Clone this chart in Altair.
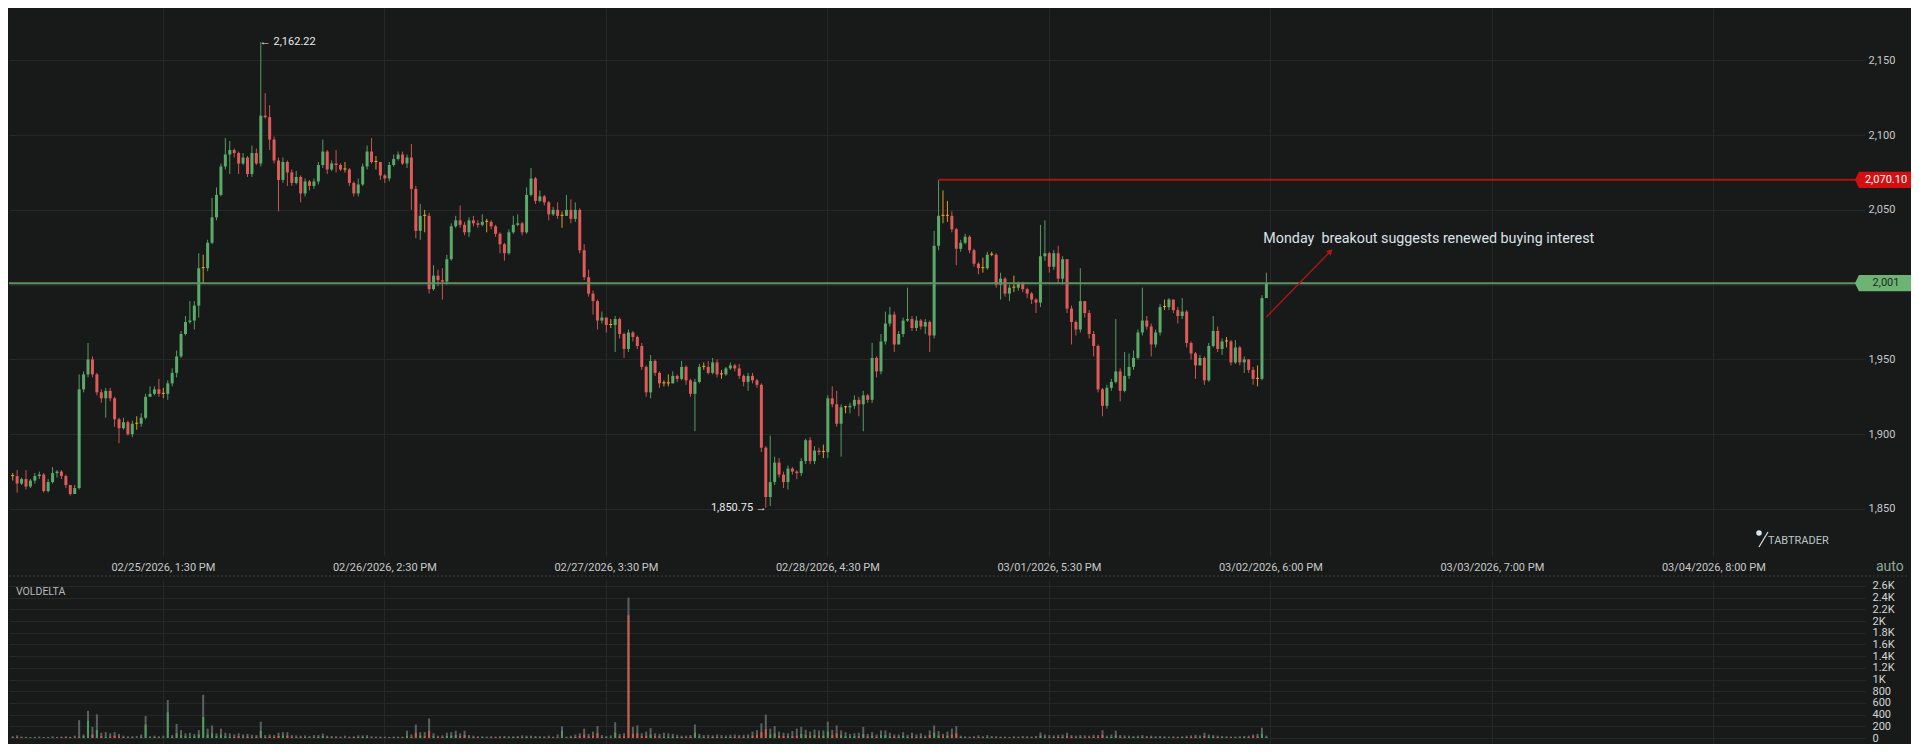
import json
import altair as alt
import pandas as pd

# ---------------- data (30-min candles) ----------------
first_open = 1872

close = [
    1872, 1867, 1870, 1865, 1869, 1872, 1873, 1862, 1868, 1874,
    1875, 1872, 1866, 1860, 1864, 1930, 1940, 1950, 1940, 1928,
    1924, 1929, 1924, 1910, 1904, 1908, 1900, 1907, 1907, 1911,
    1925, 1927, 1930, 1927, 1927, 1934, 1941, 1952, 1967, 1975,
    1976, 1986, 2011, 2011, 2028, 2045, 2060, 2079, 2087, 2090,
    2088, 2081, 2085, 2074, 2088, 2081, 2113, 2112, 2097, 2083,
    2070, 2082, 2075, 2068, 2072, 2061, 2069, 2066, 2069, 2080,
    2089, 2077, 2081, 2080, 2077, 2077, 2068, 2061, 2067, 2079,
    2089, 2082, 2082, 2073, 2071, 2080, 2084, 2087, 2081, 2085,
    2064, 2036, 2046, 2046, 1997, 2006, 2003, 2002, 2017, 2039,
    2043, 2040, 2035, 2043, 2041, 2040, 2042, 2042, 2039, 2034,
    2027, 2021, 2035, 2040, 2041, 2035, 2060, 2071, 2056, 2059,
    2055, 2047, 2050, 2046, 2046, 2050, 2044, 2050, 2023, 2005,
    1994, 1989, 1976, 1978, 1973, 1973, 1977, 1967, 1957, 1968,
    1965, 1959, 1945, 1928, 1949, 1941, 1934, 1934, 1934, 1939,
    1937, 1945, 1936, 1927, 1935, 1945, 1945, 1941, 1948, 1940,
    1940, 1944, 1946, 1944, 1939, 1935, 1939, 1936, 1933, 1891,
    1858, 1868, 1881, 1873, 1868, 1877, 1875, 1874, 1882, 1896,
    1882, 1889, 1888, 1888, 1924, 1920, 1907, 1918, 1918, 1919,
    1923, 1920, 1926, 1923, 1951, 1942, 1962, 1974, 1980, 1960,
    1967, 1976, 1977, 1971, 1976, 1972, 1975, 1966, 2026, 2046,
    2046, 2046, 2037, 2024, 2028, 2032, 2023, 2014, 2011, 2011,
    2020, 2020, 2000, 2004, 1994, 1998, 1998, 2001, 1997, 1994,
    1990, 1988, 2019, 2021, 2012, 2021, 2004, 2017, 1984, 1975,
    1970, 1989, 1981, 1967, 1959, 1930, 1919, 1931, 1935, 1942,
    1929, 1939, 1945, 1951, 1968, 1976, 1972, 1960, 1968, 1985,
    1985, 1990, 1983, 1979, 1982, 1961, 1954, 1946, 1951, 1936,
    1959, 1969, 1957, 1962, 1962, 1948, 1958, 1948, 1950, 1943,
    1937, 1937, 1991, 2001,
]

high = [
    1874, 1876, 1871, 1876, 1870, 1874, 1875, 1874, 1870, 1878,
    1876, 1876, 1873, 1866, 1866, 1940, 1942, 1961, 1952, 1941,
    1930, 1931, 1931, 1925, 1911, 1911, 1909, 1909, 1912, 1914,
    1927, 1932, 1932, 1937, 1931, 1936, 1944, 1956, 1969, 1979,
    1989, 1989, 2021, 2020, 2030, 2058, 2065, 2081, 2098, 2096,
    2091, 2089, 2088, 2086, 2093, 2091, 2162.22, 2128, 2120, 2099,
    2085, 2085, 2083, 2077, 2076, 2073, 2071, 2070, 2071, 2082,
    2097, 2090, 2083, 2090, 2081, 2082, 2078, 2069, 2071, 2081,
    2093, 2098, 2086, 2082, 2074, 2082, 2087, 2089, 2089, 2087,
    2094, 2066, 2054, 2050, 2048, 2013, 2010, 2011, 2020, 2041,
    2046, 2053, 2042, 2045, 2046, 2043, 2047, 2044, 2043, 2040,
    2035, 2028, 2037, 2046, 2047, 2042, 2065, 2078, 2072, 2063,
    2060, 2056, 2052, 2055, 2049, 2060, 2057, 2055, 2051, 2027,
    2010, 1996, 1990, 1982, 1977, 1977, 1979, 1978, 1968, 1970,
    1969, 1966, 1961, 1946, 1953, 1950, 1942, 1936, 1940, 1942,
    1940, 1949, 1946, 1937, 1937, 1947, 1948, 1949, 1951, 1950,
    1943, 1945, 1948, 1947, 1947, 1940, 1941, 1941, 1937, 1934,
    1892, 1899, 1885, 1884, 1875, 1879, 1878, 1876, 1884, 1897,
    1898, 1892, 1891, 1893, 1926, 1932, 1929, 1920, 1919, 1921,
    1926, 1925, 1929, 1927, 1961, 1952, 1967, 1982, 1985, 1982,
    1969, 1978, 1998, 1979, 1979, 1977, 1977, 1976, 2036, 2070.10,
    2063, 2056, 2049, 2038, 2030, 2034, 2033, 2024, 2015, 2018,
    2022, 2022, 2021, 2008, 2005, 2000, 2006, 2002, 2002, 1998,
    1995, 1991, 2040, 2043, 2022, 2023, 2026, 2019, 2017, 1986,
    1976, 2011, 1988, 1983, 1969, 1960, 1931, 1933, 1937, 1977,
    1944, 1955, 1954, 1956, 1970, 1998, 1979, 1974, 1970, 1987,
    1990, 1991, 1990, 1985, 1991, 1983, 1962, 1955, 1953, 1952,
    1961, 1979, 1972, 1964, 1965, 1963, 1963, 1959, 1952, 1949,
    1945, 1946, 1993, 2008,
]

low = [
    1869, 1861, 1866, 1863, 1864, 1867, 1870, 1861, 1861, 1867,
    1871, 1870, 1864, 1859, 1860, 1863, 1928, 1938, 1938, 1926,
    1921, 1911, 1922, 1905, 1894, 1903, 1899, 1898, 1903, 1905,
    1910, 1925, 1926, 1925, 1924, 1923, 1932, 1938, 1951, 1966,
    1974, 1970, 1978, 2001, 2009, 2027, 2043, 2059, 2077, 2074,
    2085, 2074, 2080, 2072, 2072, 2080, 2079, 2111, 2090, 2081,
    2049, 2068, 2066, 2066, 2067, 2055, 2059, 2063, 2064, 2067,
    2078, 2074, 2076, 2075, 2076, 2075, 2066, 2059, 2059, 2066,
    2077, 2081, 2077, 2070, 2068, 2069, 2079, 2083, 2080, 2078,
    2050, 2031, 2030, 2035, 1994, 1996, 1999, 1990, 2000, 2016,
    2038, 2038, 2033, 2032, 2039, 2038, 2039, 2035, 2037, 2032,
    2021, 2016, 2020, 2034, 2039, 2033, 2034, 2059, 2054, 2055,
    2053, 2043, 2046, 2044, 2038, 2046, 2041, 2042, 2021, 2003,
    1992, 1980, 1970, 1974, 1968, 1971, 1955, 1964, 1951, 1955,
    1962, 1957, 1943, 1925, 1924, 1939, 1931, 1932, 1932, 1936,
    1935, 1936, 1933, 1925, 1902, 1934, 1943, 1940, 1940, 1938,
    1937, 1939, 1943, 1942, 1937, 1932, 1929, 1934, 1931, 1888,
    1850.75, 1852, 1866, 1871, 1864, 1863, 1873, 1870, 1872, 1880,
    1880, 1880, 1886, 1884, 1884, 1918, 1905, 1885, 1914, 1914,
    1917, 1912, 1902, 1921, 1921, 1938, 1940, 1960, 1972, 1955,
    1960, 1965, 1975, 1969, 1969, 1970, 1967, 1955, 1964, 2023,
    2041, 2042, 2035, 2013, 2022, 2027, 2021, 2012, 2007, 2008,
    2010, 2019, 1998, 1990, 1992, 1989, 1995, 1996, 1995, 1991,
    1987, 1981, 1985, 2016, 2008, 2010, 2001, 2000, 1981, 1960,
    1966, 1968, 1978, 1964, 1952, 1928, 1912, 1917, 1929, 1934,
    1922, 1928, 1937, 1943, 1950, 1966, 1970, 1952, 1958, 1966,
    1983, 1983, 1981, 1974, 1977, 1958, 1950, 1937, 1947, 1933,
    1935, 1958, 1955, 1953, 1958, 1946, 1947, 1946, 1941, 1941,
    1933, 1932, 1936, 1995,
]

volume = [
    30, 45, 25, 20, 15, 20, 25, 15, 20, 30, 20, 25, 30, 20, 40, 305, 60, 465, 190, 405,
    90, 100, 80, 100, 70, 40, 30, 30, 35, 60, 375, 30, 40, 30, 40, 650, 50, 240, 135, 80,
    90, 70, 135, 740, 160, 215, 80, 160, 90, 80, 60, 80, 60, 70, 55, 50, 280, 50, 60, 50,
    90, 100, 100, 50, 45, 40, 45, 35, 50, 50, 75, 40, 35, 30, 25, 40, 25, 30, 45, 45,
    50, 30, 25, 25, 25, 20, 25, 25, 25, 125, 60, 230, 100, 100, 335, 80, 40, 45, 90, 100,
    125, 80, 125, 50, 40, 30, 30, 25, 30, 25, 30, 35, 30, 30, 35, 45, 40, 40, 35, 30,
    30, 40, 25, 60, 200, 25, 40, 60, 80, 160, 70, 110, 205, 50, 35, 45, 270, 70, 80, 2400,
    190, 215, 80, 110, 170, 80, 70, 90, 80, 70, 55, 40, 40, 50, 230, 70, 50, 55, 45, 60,
    50, 45, 55, 60, 50, 55, 60, 110, 135, 250, 400, 160, 205, 110, 90, 80, 120, 160, 190, 140,
    110, 145, 130, 130, 280, 140, 215, 130, 100, 70, 80, 90, 190, 70, 100, 60, 130, 130, 90, 60,
    60, 100, 55, 90, 60, 80, 45, 130, 215, 120, 70, 110, 160, 205, 40, 30, 25, 30, 45, 30,
    50, 35, 30, 25, 25, 20, 30, 25, 35, 30, 25, 35, 95, 60, 50, 45, 55, 60, 90, 50,
    40, 50, 45, 40, 55, 50, 135, 40, 60, 125, 50, 45, 40, 35, 40, 50, 35, 40, 30, 35,
    30, 25, 30, 25, 30, 40, 45, 55, 45, 90, 60, 50, 40, 35, 30, 25, 25, 30, 35, 40,
    60, 70, 175, 40,
]

delta = [
    -10, -15, 8, -8, 6, 8, 6, -10, 8, 10, 5, -8, -10, -12, 8, -20, 30, 295, -60, 135,
    -30, 20, -25, -40, -25, 15, -10, 10, 0, 20, 230, 10, 15, -10, 5, 440, 20, 80, 50, 30,
    20, 30, 60, 360, 60, 80, 30, 60, 30, 20, -20, -30, 20, -25, 20, -20, 120, -15, -25, -20,
    -35, 40, -40, -20, 15, -15, 15, -10, 15, 20, 30, -15, 10, -10, -8, 5, -10, -15, 15, 20,
    20, -10, -8, -10, -8, 10, 10, 8, -8, 40, -20, -90, 40, -30, -120, 30, -15, -15, 35, 40,
    50, -30, -50, 20, -15, -10, 10, 5, -10, -10, -12, -10, 12, 15, 15, -12, 18, 15, -12, 12,
    -10, -15, 10, -10, 125, 8, -15, 20, -30, -60, -25, -40, -80, 15, -12, 10, 90, -25, -30, -2100,
    -70, -80, -30, -40, 60, -30, -25, 20, 20, 25, -20, 15, -15, -20, 90, 25, 15, -15, 20, -20,
    10, 15, 20, -20, -20, -20, 20, -40, -50, -100, -150, 60, 80, -40, -30, 30, -30, -40, 70, 50,
    -40, 50, -40, 40, 110, -50, -80, 50, 30, 25, 30, -30, 70, -25, 40, -20, 50, 50, 30, -25,
    20, 35, 20, -30, 20, -25, 15, -50, 90, 45, -25, 40, -60, -80, 15, 10, -10, -10, -15, 10,
    15, 10, -10, 10, -10, 8, -8, 8, -10, -10, -10, -12, 40, 20, -15, 15, -20, 20, -35, -20,
    -15, 20, -15, -15, -20, -20, -50, 15, 20, 45, -20, 15, 15, 12, 15, 20, -12, -15, 10, 12,
    10, 10, -10, -10, 10, -15, -15, -20, 15, -35, 20, 20, -15, 12, 10, -10, 10, -12, 12, -15,
    -25, -25, 70, 15,
]

date_labels = [
    "02/25/2026, 1:30 PM", "02/26/2026, 2:30 PM", "02/27/2026, 3:30 PM",
    "02/28/2026, 4:30 PM", "03/01/2026, 5:30 PM", "03/02/2026, 6:00 PM",
    "03/03/2026, 7:00 PM", "03/04/2026, 8:00 PM",
]
date_ticks = [33.9, 83.9, 133.9, 183.9, 233.9, 283.9, 333.9, 383.9]
price_ticks = [1850, 1900, 1950, 2000, 2050, 2100, 2150]
price_labels = [1850, 1900, 1950, 2050, 2100, 2150]
vol_ticks = [0, 200, 400, 600, 800, 1000, 1200, 1400, 1600, 1800, 2000, 2200, 2400, 2600]

max_idx, max_price = 56, 2162.22
min_idx, min_price = 170, 1850.75
res_idx, res_price = 209, 2070.10
last_price = 2001
note_text = "Monday  breakout suggests renewed buying interest"

n = len(close)
assert len(high) == n and len(low) == n and len(volume) == n and len(delta) == n, (
    n, len(high), len(low), len(volume), len(delta))

# ---------------- styling ----------------
BG = "#181a1a"
GRID = "#252828"
LABEL = "#c6c9c9"
GREEN = "#5aab6a"
RED = "#e05a5a"
ORANGE = "#f0a524"
FONT = "Roboto"

W, H_MAIN, H_VOL = 1856, 548, 164
X_DOM = [0.292, 417.0]
Y_DOM = [1818.57, 2184.97]
V_DOM = [-102.6, 2702.6]

# ---------------- tables ----------------
opens = [first_open] + close[:-1]
rows = []
for i in range(n):
    o, c = opens[i], close[i]
    d = "up" if c > o else ("down" if c < o else "flat")
    bb = min(o, c)
    bt = max(o, c)
    if bt - bb < 0.7:
        bt = bb + 0.7
    rows.append(dict(i=i, o=o, c=c, h=max(high[i], bt), l=min(low[i], bb), bt=bt, bb=bb, d=d,
                     v=volume[i], ad=abs(delta[i]), s="pos" if delta[i] >= 0 else "neg", z=0))
df = pd.DataFrame(rows)

xscale = alt.Scale(domain=X_DOM, nice=False, zero=False)
yscale = alt.Scale(domain=Y_DOM, nice=False, zero=False)
vscale = alt.Scale(domain=V_DOM, nice=False, zero=False)

label_map = {str(t): lab for t, lab in zip(date_ticks, date_labels)}
x_label_expr = json.dumps(label_map) + "['' + datum.value]"
y_label_expr = ("indexof(" + json.dumps(price_labels) + ", datum.value) >= 0 ? "
                "format(datum.value, ',.0f') : ''")

x_axis_main = alt.Axis(values=date_ticks, labelExpr=x_label_expr, grid=True, domain=False,
                       ticks=False, labelPadding=5, labelFontSize=11, labelColor=LABEL,
                       labelFont=FONT, title=None, labelOverlap=False, labelFlush=False,
                       tickCount=len(date_ticks))
y_axis_main = alt.Axis(orient="right", values=price_ticks, labelExpr=y_label_expr, grid=True,
                       domain=False, ticks=False, labelPadding=3, labelFontSize=11,
                       labelColor=LABEL, labelFont=FONT, title=None, labelOverlap=False,
                       tickCount=len(price_ticks))


def X(field):
    return alt.X(field, scale=xscale)


def Y(field, scale=yscale):
    return alt.Y(field, scale=scale)


base = alt.Chart(df)

# axis carrier layer (invisible)
axis_layer = base.mark_rule(opacity=0).encode(
    x=alt.X("i:Q", scale=xscale, axis=x_axis_main),
    y=alt.Y("c:Q", scale=yscale, axis=y_axis_main),
)

candle_layers = []
for kind, col in (("up", GREEN), ("down", RED), ("flat", ORANGE)):
    sub = base.transform_filter(alt.datum.d == kind)
    wick = sub.mark_rule(strokeWidth=1, clip=True, opacity=0.9, color=col).encode(
        x=X("i:Q"), y=Y("l:Q"), y2="h:Q")
    body = sub.mark_bar(size=3, clip=True, color=col).encode(
        x=X("i:Q"), y=Y("bb:Q"), y2="bt:Q")
    candle_layers += [wick, body]

green_line = alt.Chart(pd.DataFrame({"p": [last_price]})).mark_rule(
    color="#5f9163", strokeWidth=2).encode(y=Y("p:Q"))

red_line = alt.Chart(pd.DataFrame({"xs": [res_idx], "xe": [X_DOM[1]], "p": [res_price]})).mark_rule(
    color="#b01212", strokeWidth=2).encode(x=X("xs:Q"), x2="xe:Q", y=Y("p:Q"))

TAG_PATH = "M-1,0 L-0.86,-0.29 L1,-0.29 L1,0.29 L-0.86,0.29 Z"


def price_tag(price, text, fill, txt_color):
    tdf = pd.DataFrame({"p": [price], "t": [text]})
    box = alt.Chart(tdf).mark_point(shape=TAG_PATH, size=3136, filled=True, opacity=1,
                                    strokeWidth=0, color=fill).encode(
        x=alt.value(1874), y=Y("p:Q"))
    lab = alt.Chart(tdf).mark_text(font=FONT, fontSize=11, align="center", baseline="middle",
                                   color=txt_color).encode(
        x=alt.value(1877), y=Y("p:Q"), text="t:N")
    return [box, lab]


tag_layers = (price_tag(res_price, f"{res_price:,.2f}", "#d40f0f", "#ffffff")
              + price_tag(last_price, f"{last_price:,}", "#6db374", "#1d2b1e"))

hi_text = alt.Chart(pd.DataFrame({"i": [max_idx], "p": [max_price],
                                  "t": [f"\u2190 {max_price:,.2f}"]})).mark_text(
    font=FONT, fontSize=11, align="left", baseline="middle", color="#eaeaea", dx=-1).encode(
    x=X("i:Q"), y=Y("p:Q"), text="t:N")
lo_text = alt.Chart(pd.DataFrame({"i": [min_idx], "p": [min_price],
                                  "t": [f"{min_price:,.2f} \u2192"]})).mark_text(
    font=FONT, fontSize=11, align="right", baseline="middle", color="#eaeaea", dx=1).encode(
    x=X("i:Q"), y=Y("p:Q"), text="t:N")

note = alt.Chart(pd.DataFrame({"x": [282.3], "p": [2030.5],
                               "t": [note_text.replace("  ", "\u00a0 ")]})).mark_text(
    font=FONT, fontSize=14.3, align="left", baseline="middle", color="#dbe2e8").encode(
    x=X("x:Q"), y=Y("p:Q"), text="t:N")

arrow_df = pd.DataFrame({"x": [283.0], "x2": [297.3], "p": [1978.4], "p2": [2021.8]})
arrow_line = alt.Chart(arrow_df).mark_rule(color="#b01515", strokeWidth=1.3).encode(
    x=X("x:Q"), x2="x2:Q", y=Y("p:Q"), y2="p2:Q")
arrow_head = alt.Chart(arrow_df).mark_point(shape="triangle", angle=45, filled=True, size=45,
                                            opacity=1, color="#b01515").encode(
    x=X("x2:Q"), y=Y("p2:Q"))

one = pd.DataFrame({"t": ["TABTRADER"]})
logo_dot = alt.Chart(one).mark_point(shape="circle", filled=True, size=30, opacity=1,
                                     color="#dce6ee").encode(x=alt.value(1750), y=alt.value(525))
logo_slash = alt.Chart(one).mark_rule(color="#dce6ee", strokeWidth=1.2).encode(
    x=alt.value(1750), x2=alt.value(1759), y=alt.value(539), y2=alt.value(524))
logo_text = alt.Chart(one).mark_text(font=FONT, fontSize=11, color="#b9c6c6", align="left",
                                     baseline="middle").encode(
    x=alt.value(1759), y=alt.value(533), text="t:N")
auto_text = alt.Chart(pd.DataFrame({"t": ["auto"]})).mark_text(
    font=FONT, fontSize=14, color="#8fa99c", align="left", baseline="middle").encode(
    x=alt.value(1867), y=alt.value(559), text="t:N")

main = alt.layer(
    axis_layer, *candle_layers, green_line, red_line, *tag_layers, hi_text, lo_text,
    note, arrow_line, arrow_head, logo_dot, logo_slash, logo_text, auto_text,
).properties(width=W, height=H_MAIN)

# ---------------- volume delta panel ----------------
vol_label_expr = ("datum.value >= 1000 ? format(datum.value / 1000, '.1~f') + 'K' : "
                  "format(datum.value, 'd')")
vbase = alt.Chart(df)
vol_axis_layer = vbase.mark_rule(opacity=0).encode(
    x=alt.X("i:Q", scale=xscale, axis=alt.Axis(values=date_ticks, labels=False, ticks=False,
                                                domain=False, grid=True, title=None,
                                                tickCount=len(date_ticks))),
    y=alt.Y("v:Q", scale=vscale, axis=alt.Axis(orient="right", values=vol_ticks,
                                               labelExpr=vol_label_expr, grid=True,
                                               domain=False, ticks=False, labelPadding=7,
                                               labelFontSize=11, labelColor="#d4d6d6",
                                               labelFont=FONT, title=None,
                                               labelOverlap=False,
                                               tickCount=len(vol_ticks))),
)
vol_gray = vbase.mark_bar(size=2, color="#5d6060", clip=True).encode(
    x=X("i:Q"), y=Y("v:Q", vscale), y2="z:Q")
vol_pos = vbase.transform_filter(alt.datum.s == "pos").mark_bar(
    size=2, clip=True, color="#4f9c5e").encode(x=X("i:Q"), y=Y("ad:Q", vscale), y2="z:Q")
vol_neg = vbase.transform_filter(alt.datum.s == "neg").mark_bar(
    size=2, clip=True, color="#c9604c").encode(x=X("i:Q"), y=Y("ad:Q", vscale), y2="z:Q")
sep = alt.Chart(one).mark_rule(color="#3a3d3d", strokeDash=[2, 2], strokeWidth=1).encode(
    x=alt.value(0), x2=alt.value(1900), y=alt.value(-4))
vol_title = alt.Chart(pd.DataFrame({"t": ["VOLDELTA"]})).mark_text(
    font=FONT, fontSize=10.5, color="#b5b8b8", align="left", baseline="middle").encode(
    x=alt.value(7), y=alt.value(12), text="t:N")

vol = alt.layer(vol_axis_layer, vol_gray, vol_pos, vol_neg, sep, vol_title).properties(
    width=W, height=H_VOL)

chart = alt.vconcat(main, vol, spacing=24, bounds="flush").properties(
    padding={"left": 0, "top": 0, "right": 0, "bottom": 0}
).configure(background=BG, font=FONT).configure_view(stroke=None).configure_axis(
    gridColor=GRID, gridWidth=1
)

chart.save("out.html", embed_options={"renderer": "svg", "actions": False})
